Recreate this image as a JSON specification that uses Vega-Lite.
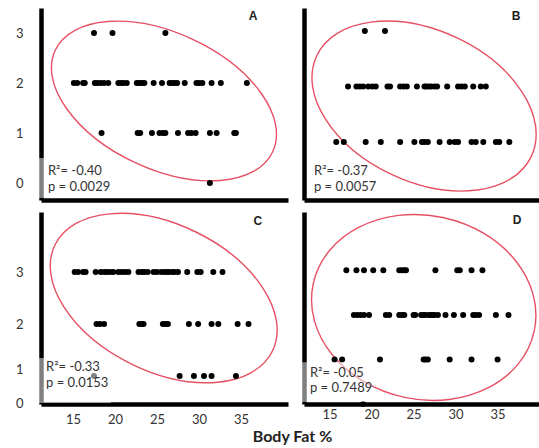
{
  "$schema": "https://vega.github.io/schema/vega-lite/v6.json",
  "background": "white",
  "padding": {"left": 15, "top": 8, "right": 0, "bottom": 2},
  "bounds": "flush",
  "columns": 2,
  "spacing": {"row": 12, "column": 16},
  "config": {
    "view": {"stroke": null},
    "axis": {"domainColor": "black", "domainWidth": 4.5, "ticks": false, "tickSize": 0, "grid": false, "labelFont": "Lato", "labelFontSize": 13, "labelColor": "#333333", "title": null}
  },
  "datasets": {
    "pts": [
      {"p":"A","x":17.5,"y":3},{"p":"A","x":19.7,"y":3},{"p":"A","x":26.0,"y":3},
      {"p":"A","x":15.1,"y":2},{"p":"A","x":15.5,"y":2},{"p":"A","x":16.2,"y":2},{"p":"A","x":16.4,"y":2},{"p":"A","x":17.6,"y":2},{"p":"A","x":17.9,"y":2},{"p":"A","x":18.3,"y":2},{"p":"A","x":18.7,"y":2},{"p":"A","x":19.2,"y":2},{"p":"A","x":20.4,"y":2},{"p":"A","x":20.7,"y":2},{"p":"A","x":21.0,"y":2},{"p":"A","x":21.4,"y":2},{"p":"A","x":22.6,"y":2},{"p":"A","x":22.9,"y":2},{"p":"A","x":23.2,"y":2},{"p":"A","x":23.5,"y":2},{"p":"A","x":24.6,"y":2},{"p":"A","x":25.6,"y":2},{"p":"A","x":26.5,"y":2},{"p":"A","x":26.8,"y":2},{"p":"A","x":27.1,"y":2},{"p":"A","x":27.4,"y":2},{"p":"A","x":28.3,"y":2},{"p":"A","x":29.7,"y":2},{"p":"A","x":30.0,"y":2},{"p":"A","x":30.4,"y":2},{"p":"A","x":31.5,"y":2},{"p":"A","x":32.6,"y":2},{"p":"A","x":35.7,"y":2},
      {"p":"A","x":18.4,"y":1},{"p":"A","x":22.7,"y":1},{"p":"A","x":23.0,"y":1},{"p":"A","x":24.4,"y":1},{"p":"A","x":25.3,"y":1},{"p":"A","x":25.7,"y":1},{"p":"A","x":26.0,"y":1},{"p":"A","x":27.5,"y":1},{"p":"A","x":28.7,"y":1},{"p":"A","x":29.1,"y":1},{"p":"A","x":29.6,"y":1},{"p":"A","x":31.3,"y":1},{"p":"A","x":32.1,"y":1},{"p":"A","x":34.2,"y":1},{"p":"A","x":34.4,"y":1},
      {"p":"A","x":31.3,"y":0},
      {"p":"B","x":19.2,"y":3},{"p":"B","x":21.6,"y":3},
      {"p":"B","x":17.2,"y":2},{"p":"B","x":18.2,"y":2},{"p":"B","x":18.6,"y":2},{"p":"B","x":19.0,"y":2},{"p":"B","x":19.6,"y":2},{"p":"B","x":20.1,"y":2},{"p":"B","x":20.5,"y":2},{"p":"B","x":21.9,"y":2},{"p":"B","x":22.2,"y":2},{"p":"B","x":23.4,"y":2},{"p":"B","x":23.8,"y":2},{"p":"B","x":24.2,"y":2},{"p":"B","x":25.4,"y":2},{"p":"B","x":26.3,"y":2},{"p":"B","x":26.5,"y":2},{"p":"B","x":26.8,"y":2},{"p":"B","x":27.1,"y":2},{"p":"B","x":27.5,"y":2},{"p":"B","x":27.8,"y":2},{"p":"B","x":29.0,"y":2},{"p":"B","x":30.3,"y":2},{"p":"B","x":30.7,"y":2},{"p":"B","x":31.1,"y":2},{"p":"B","x":32.1,"y":2},{"p":"B","x":33.0,"y":2},{"p":"B","x":33.6,"y":2},
      {"p":"B","x":15.8,"y":1},{"p":"B","x":16.7,"y":1},{"p":"B","x":19.3,"y":1},{"p":"B","x":21.1,"y":1},{"p":"B","x":23.4,"y":1},{"p":"B","x":25.1,"y":1},{"p":"B","x":26.0,"y":1},{"p":"B","x":26.3,"y":1},{"p":"B","x":26.7,"y":1},{"p":"B","x":28.1,"y":1},{"p":"B","x":29.3,"y":1},{"p":"B","x":29.9,"y":1},{"p":"B","x":30.3,"y":1},{"p":"B","x":31.9,"y":1},{"p":"B","x":32.4,"y":1},{"p":"B","x":33.3,"y":1},{"p":"B","x":34.8,"y":1},{"p":"B","x":35.2,"y":1},{"p":"B","x":36.4,"y":1},
      {"p":"C","x":15.2,"y":3},{"p":"C","x":15.6,"y":3},{"p":"C","x":16.2,"y":3},{"p":"C","x":16.5,"y":3},{"p":"C","x":17.7,"y":3},{"p":"C","x":18.3,"y":3},{"p":"C","x":18.7,"y":3},{"p":"C","x":19.0,"y":3},{"p":"C","x":19.4,"y":3},{"p":"C","x":19.8,"y":3},{"p":"C","x":20.4,"y":3},{"p":"C","x":20.8,"y":3},{"p":"C","x":21.2,"y":3},{"p":"C","x":21.6,"y":3},{"p":"C","x":22.8,"y":3},{"p":"C","x":23.2,"y":3},{"p":"C","x":23.5,"y":3},{"p":"C","x":23.9,"y":3},{"p":"C","x":24.6,"y":3},{"p":"C","x":25.0,"y":3},{"p":"C","x":25.5,"y":3},{"p":"C","x":25.9,"y":3},{"p":"C","x":26.2,"y":3},{"p":"C","x":26.5,"y":3},{"p":"C","x":26.9,"y":3},{"p":"C","x":27.1,"y":3},{"p":"C","x":27.5,"y":3},{"p":"C","x":28.6,"y":3},{"p":"C","x":29.8,"y":3},{"p":"C","x":30.2,"y":3},{"p":"C","x":31.7,"y":3},{"p":"C","x":32.8,"y":3},
      {"p":"C","x":17.8,"y":2},{"p":"C","x":18.2,"y":2},{"p":"C","x":18.7,"y":2},{"p":"C","x":22.9,"y":2},{"p":"C","x":23.2,"y":2},{"p":"C","x":23.4,"y":2},{"p":"C","x":25.7,"y":2},{"p":"C","x":26.0,"y":2},{"p":"C","x":26.3,"y":2},{"p":"C","x":28.8,"y":2},{"p":"C","x":29.9,"y":2},{"p":"C","x":31.5,"y":2},{"p":"C","x":32.3,"y":2},{"p":"C","x":34.6,"y":2},{"p":"C","x":35.9,"y":2},
      {"p":"C","x":17.5,"y":1},{"p":"C","x":27.7,"y":1},{"p":"C","x":29.4,"y":1},{"p":"C","x":30.6,"y":1},{"p":"C","x":31.5,"y":1},{"p":"C","x":34.4,"y":1},
      {"p":"D","x":17.0,"y":3},{"p":"D","x":18.2,"y":3},{"p":"D","x":19.1,"y":3},{"p":"D","x":20.2,"y":3},{"p":"D","x":21.4,"y":3},{"p":"D","x":23.3,"y":3},{"p":"D","x":23.6,"y":3},{"p":"D","x":23.9,"y":3},{"p":"D","x":24.1,"y":3},{"p":"D","x":27.6,"y":3},{"p":"D","x":30.2,"y":3},{"p":"D","x":30.5,"y":3},{"p":"D","x":31.9,"y":3},{"p":"D","x":33.2,"y":3},
      {"p":"D","x":17.9,"y":2},{"p":"D","x":18.3,"y":2},{"p":"D","x":18.7,"y":2},{"p":"D","x":19.1,"y":2},{"p":"D","x":19.7,"y":2},{"p":"D","x":21.7,"y":2},{"p":"D","x":22.1,"y":2},{"p":"D","x":23.3,"y":2},{"p":"D","x":23.6,"y":2},{"p":"D","x":23.9,"y":2},{"p":"D","x":25.0,"y":2},{"p":"D","x":25.2,"y":2},{"p":"D","x":25.9,"y":2},{"p":"D","x":26.2,"y":2},{"p":"D","x":26.4,"y":2},{"p":"D","x":26.8,"y":2},{"p":"D","x":27.1,"y":2},{"p":"D","x":27.3,"y":2},{"p":"D","x":27.5,"y":2},{"p":"D","x":27.9,"y":2},{"p":"D","x":28.8,"y":2},{"p":"D","x":29.8,"y":2},{"p":"D","x":30.9,"y":2},{"p":"D","x":32.1,"y":2},{"p":"D","x":32.4,"y":2},{"p":"D","x":32.8,"y":2},{"p":"D","x":34.8,"y":2},{"p":"D","x":36.3,"y":2},
      {"p":"D","x":15.6,"y":1},{"p":"D","x":16.5,"y":1},{"p":"D","x":21.0,"y":1},{"p":"D","x":26.2,"y":1},{"p":"D","x":26.4,"y":1},{"p":"D","x":26.7,"y":1},{"p":"D","x":29.3,"y":1},{"p":"D","x":31.9,"y":1},{"p":"D","x":35.0,"y":1},
      {"p":"D","x":19.0,"y":0}
    ],
    "ell": [
      {"p":"A","x":25.83,"y":1.64},
      {"p":"B","x":26.25,"y":1.648},
      {"p":"C","x":25.8,"y":2.5},
      {"p":"D","x":26.21,"y":2.167}
    ],
    "box": [
      {"p":"A","x":10.71,"x2":19.76,"y":0.5,"y2":-0.3},
      {"p":"C","x":10.71,"x2":19.52,"y":1.346,"y2":0.48},
      {"p":"D","x":11.48,"x2":20.06,"y":0.94,"y2":0.045}
    ],
    "stat": [
      {"p":"A","x":12.02,"y":0.24,"t":"R²= -0.40"},{"p":"A","x":12.02,"y":-0.08,"t":"p = 0.0029"},
      {"p":"B","x":13.15,"y":0.477,"t":"R²= -0.37"},{"p":"B","x":13.15,"y":0.189,"t":"p = 0.0057"},
      {"p":"C","x":11.79,"y":1.173,"t":"R²= -0.33"},{"p":"C","x":11.79,"y":0.865,"t":"p = 0.0153"},
      {"p":"D","x":12.67,"y":0.694,"t":"R²= -0.05"},{"p":"D","x":12.67,"y":0.359,"t":"p = 0.7489"}
    ],
    "letter": [
      {"p":"A","x":36.43,"y":3.34,"t":"A"},
      {"p":"B","x":37.2,"y":3.27,"t":"B"},
      {"p":"C","x":37.02,"y":3.98,"t":"C"},
      {"p":"D","x":37.32,"y":4.13,"t":"D"}
    ]
  },
  "concat": [
    {
      "width": 247, "height": 192,
      "encoding": {
        "x": {"field": "x", "type": "quantitative", "scale": {"domain": [11.19, 40.6], "nice": false, "zero": false}, "axis": {"labels": false}},
        "y": {"field": "y", "type": "quantitative", "scale": {"domain": [-0.34, 3.5], "nice": false, "zero": false}, "axis": {"values": [0, 1, 2, 3], "format": "d", "labelPadding": 18}}
      },
      "layer": [
        {"data": {"name": "ell"}, "transform": [{"filter": "datum.p === 'A'"}], "mark": {"type": "point", "shape": "M 1 0 C 1 0.3131 0.5523 0.567 0 0.567 C -0.5523 0.567 -1 0.3131 -1 0 C -1 -0.3131 -0.5523 -0.567 0 -0.567 C 0.5523 -0.567 1 -0.3131 1 0 Z", "size": 57600, "angle": 25, "filled": false, "stroke": "#e65064", "strokeWidth": 1.4, "opacity": 1}},
        {"data": {"name": "pts"}, "transform": [{"filter": "datum.p === 'A'"}], "mark": {"type": "circle", "size": 36, "color": "black", "opacity": 1}},
        {"data": {"name": "box"}, "transform": [{"filter": "datum.p === 'A'"}], "mark": {"type": "rect", "fill": "white", "opacity": 0.5}, "encoding": {"x2": {"field": "x2"}, "y2": {"field": "y2"}}},
        {"data": {"name": "stat"}, "transform": [{"filter": "datum.p === 'A'"}], "mark": {"type": "text", "align": "left", "baseline": "middle", "font": "Lato", "fontSize": 13, "color": "#333333"}, "encoding": {"text": {"field": "t"}}},
        {"data": {"name": "letter"}, "transform": [{"filter": "datum.p === 'A'"}], "mark": {"type": "text", "align": "center", "baseline": "middle", "font": "Liberation Sans", "fontSize": 12, "fontWeight": "bold", "color": "#222222"}, "encoding": {"text": {"field": "t"}}}
      ]
    },
    {
      "width": 236, "height": 192,
      "encoding": {
        "x": {"field": "x", "type": "quantitative", "scale": {"domain": [11.96, 40.05], "nice": false, "zero": false}, "axis": {"labels": false}},
        "y": {"field": "y", "type": "quantitative", "scale": {"domain": [-0.045, 3.414], "nice": false, "zero": false}, "axis": {"labels": false}}
      },
      "layer": [
        {"data": {"name": "ell"}, "transform": [{"filter": "datum.p === 'B'"}], "mark": {"type": "point", "shape": "M 1 0 C 1 0.3529 0.5523 0.639 0 0.639 C -0.5523 0.639 -1 0.3529 -1 0 C -1 -0.3529 -0.5523 -0.639 0 -0.639 C 0.5523 -0.639 1 -0.3529 1 0 Z", "size": 56169, "angle": 25, "filled": false, "stroke": "#e65064", "strokeWidth": 1.4, "opacity": 1}},
        {"data": {"name": "pts"}, "transform": [{"filter": "datum.p === 'B'"}], "mark": {"type": "circle", "size": 36, "color": "black", "opacity": 1}},
        {"data": {"name": "stat"}, "transform": [{"filter": "datum.p === 'B'"}], "mark": {"type": "text", "align": "left", "baseline": "middle", "font": "Lato", "fontSize": 13, "color": "#333333"}, "encoding": {"text": {"field": "t"}}},
        {"data": {"name": "letter"}, "transform": [{"filter": "datum.p === 'B'"}], "mark": {"type": "text", "align": "center", "baseline": "middle", "font": "Liberation Sans", "fontSize": 12, "fontWeight": "bold", "color": "#222222"}, "encoding": {"text": {"field": "t"}}}
      ]
    },
    {
      "width": 247, "height": 192,
      "encoding": {
        "x": {"field": "x", "type": "quantitative", "scale": {"domain": [11.19, 40.6], "nice": false, "zero": false}, "axis": {"values": [15, 20, 25, 30, 35], "labelPadding": 9, "title": "Body Fat %", "titleX": 251, "titleY": 37, "titleBaseline": "alphabetic", "titleAlign": "center", "titleAnchor": null, "titleFont": "Lato", "titleFontSize": 16, "titleFontWeight": "bold", "titleColor": "#222222"}},
        "y": {"field": "y", "type": "quantitative", "scale": {"domain": [0.462, 4.154], "nice": false, "zero": false}, "axis": {"values": [0.47, 1.135, 2, 3], "labelExpr": "datum.value < 0.8 ? '0' : datum.value < 1.5 ? '1' : datum.value < 2.5 ? '2' : '3'", "labelPadding": 18}}
      },
      "layer": [
        {"data": {"name": "ell"}, "transform": [{"filter": "datum.p === 'C'"}], "mark": {"type": "point", "shape": "M 1 0 C 1 0.3353 0.5523 0.607 0 0.607 C -0.5523 0.607 -1 0.3353 -1 0 C -1 -0.3353 -0.5523 -0.607 0 -0.607 C 0.5523 -0.607 1 -0.3353 1 0 Z", "size": 58564, "angle": 26, "filled": false, "stroke": "#e65064", "strokeWidth": 1.4, "opacity": 1}},
        {"data": {"name": "pts"}, "transform": [{"filter": "datum.p === 'C'"}], "mark": {"type": "circle", "size": 36, "color": "black", "opacity": 1}},
        {"data": {"name": "box"}, "transform": [{"filter": "datum.p === 'C'"}], "mark": {"type": "rect", "fill": "white", "opacity": 0.5}, "encoding": {"x2": {"field": "x2"}, "y2": {"field": "y2"}}},
        {"data": {"name": "stat"}, "transform": [{"filter": "datum.p === 'C'"}], "mark": {"type": "text", "align": "left", "baseline": "middle", "font": "Lato", "fontSize": 13, "color": "#333333"}, "encoding": {"text": {"field": "t"}}},
        {"data": {"name": "letter"}, "transform": [{"filter": "datum.p === 'C'"}], "mark": {"type": "text", "align": "center", "baseline": "middle", "font": "Liberation Sans", "fontSize": 12, "fontWeight": "bold", "color": "#222222"}, "encoding": {"text": {"field": "t"}}}
      ]
    },
    {
      "width": 236, "height": 192,
      "encoding": {
        "x": {"field": "x", "type": "quantitative", "scale": {"domain": [11.96, 40.05], "nice": false, "zero": false}, "axis": {"values": [15, 20, 25, 30, 35], "labelPadding": 4}},
        "y": {"field": "y", "type": "quantitative", "scale": {"domain": [0, 4.31], "nice": false, "zero": false}, "axis": {"labels": false}}
      },
      "layer": [
        {"data": {"name": "ell"}, "transform": [{"filter": "datum.p === 'D'"}], "mark": {"type": "point", "shape": "M 1 0 C 1 0.4496 0.5523 0.814 0 0.814 C -0.5523 0.814 -1 0.4496 -1 0 C -1 -0.4496 -0.5523 -0.814 0 -0.814 C 0.5523 -0.814 1 -0.4496 1 0 Z", "size": 51076, "angle": 12, "filled": false, "stroke": "#e65064", "strokeWidth": 1.4, "opacity": 1}},
        {"data": {"name": "pts"}, "transform": [{"filter": "datum.p === 'D'"}], "mark": {"type": "circle", "size": 36, "color": "black", "opacity": 1}},
        {"data": {"name": "box"}, "transform": [{"filter": "datum.p === 'D'"}], "mark": {"type": "rect", "fill": "white", "opacity": 0.5}, "encoding": {"x2": {"field": "x2"}, "y2": {"field": "y2"}}},
        {"data": {"name": "stat"}, "transform": [{"filter": "datum.p === 'D'"}], "mark": {"type": "text", "align": "left", "baseline": "middle", "font": "Lato", "fontSize": 13, "color": "#333333"}, "encoding": {"text": {"field": "t"}}},
        {"data": {"name": "letter"}, "transform": [{"filter": "datum.p === 'D'"}], "mark": {"type": "text", "align": "center", "baseline": "middle", "font": "Liberation Sans", "fontSize": 12, "fontWeight": "bold", "color": "#222222"}, "encoding": {"text": {"field": "t"}}}
      ]
    }
  ]
}
